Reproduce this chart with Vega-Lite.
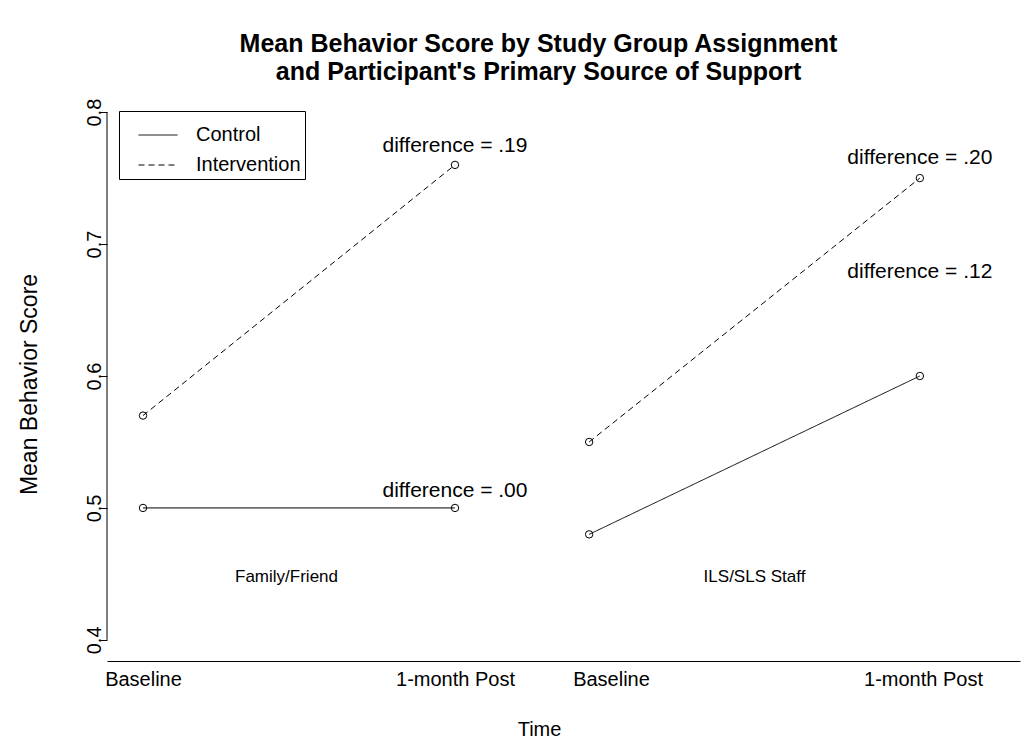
{
  "$schema": "https://vega.github.io/schema/vega-lite/v6.json",
  "width": 913,
  "height": 570,
  "autosize": {"type": "none"},
  "padding": {"left": 107, "top": 91, "right": 5, "bottom": 81},
  "background": "white",
  "config": {
    "view": {"stroke": null},
    "font": "Liberation Sans",
    "axis": {"labelFont": "Liberation Sans", "titleFont": "Liberation Sans", "labelColor": "black", "titleColor": "black", "grid": false},
    "legend": {
      "orient": "none",
      "legendX": 12,
      "legendY": 20,
      "strokeColor": "black",
      "fillColor": "white",
      "padding": 4,
      "labelFont": "Liberation Sans",
      "labelFontSize": 20,
      "labelColor": "black",
      "symbolType": "stroke",
      "symbolSize": 1521,
      "symbolStrokeWidth": 1,
      "symbolStrokeColor": "black",
      "symbolOffset": 15,
      "labelOffset": 18,
      "rowPadding": -8
    }
  },
  "title": {
    "text": ["Mean Behavior Score by Study Group Assignment", "and Participant's Primary Source of Support"],
    "font": "Liberation Sans",
    "fontSize": 25,
    "fontWeight": "bold",
    "color": "black",
    "lineHeight": 28,
    "baseline": "alphabetic",
    "offset": 10,
    "anchor": "middle",
    "dx": -25,
    "dy": 24
  },
  "datasets": {
    "scores": [
      {"support": "Family/Friend", "group": "Control", "series": "FF-Control", "time": "Baseline", "x": 1, "y": 0.50},
      {"support": "Family/Friend", "group": "Control", "series": "FF-Control", "time": "1-month Post", "x": 2, "y": 0.50},
      {"support": "Family/Friend", "group": "Intervention", "series": "FF-Intervention", "time": "Baseline", "x": 1, "y": 0.57},
      {"support": "Family/Friend", "group": "Intervention", "series": "FF-Intervention", "time": "1-month Post", "x": 2, "y": 0.76},
      {"support": "ILS/SLS Staff", "group": "Control", "series": "ILS-Control", "time": "Baseline", "x": 2.43, "y": 0.48},
      {"support": "ILS/SLS Staff", "group": "Control", "series": "ILS-Control", "time": "1-month Post", "x": 3.49, "y": 0.60},
      {"support": "ILS/SLS Staff", "group": "Intervention", "series": "ILS-Intervention", "time": "Baseline", "x": 2.43, "y": 0.55},
      {"support": "ILS/SLS Staff", "group": "Intervention", "series": "ILS-Intervention", "time": "1-month Post", "x": 3.49, "y": 0.75}
    ],
    "diffs": [
      {"label": "difference = .19", "x": 2, "y": 0.774},
      {"label": "difference = .00", "x": 2, "y": 0.513},
      {"label": "difference = .20", "x": 3.49, "y": 0.765},
      {"label": "difference = .12", "x": 3.49, "y": 0.679}
    ],
    "panels": [
      {"label": "Family/Friend", "x": 1.46, "y": 0.448},
      {"label": "ILS/SLS Staff", "x": 2.96, "y": 0.448}
    ],
    "yaxis": [
      {"x": 0.8846, "y": 0.4, "y2": 0.8}
    ]
  },
  "encoding": {
    "x": {
      "field": "x",
      "type": "quantitative",
      "scale": {"domain": [0.8846, 3.811], "nice": false, "zero": false},
      "axis": {
        "values": [1, 2, 2.5, 3.5],
        "labelExpr": "datum.value == 1 || datum.value == 2.5 ? 'Baseline' : '1-month Post'",
        "labelFontSize": 20,
        "labelBaseline": "alphabetic",
        "labelPadding": 24,
        "labelFlush": false,
        "labelOverlap": false,
        "ticks": false,
        "tickSize": 0,
        "domain": true,
        "domainColor": "black",
        "domainWidth": 1,
        "title": "Time",
        "titleFontSize": 20,
        "titleFontWeight": "normal",
        "titleX": 432,
        "titleY": 74,
        "titleBaseline": "alphabetic",
        "titleAlign": "center"
      }
    },
    "y": {
      "field": "y",
      "type": "quantitative",
      "scale": {"domain": [0.384, 0.816], "nice": false, "zero": false},
      "axis": {
        "values": [0.4, 0.5, 0.6, 0.7, 0.8],
        "format": ".1f",
        "labelFontSize": 20,
        "labelAngle": 270,
        "labelAlign": "center",
        "labelBaseline": "alphabetic",
        "labelPadding": 0,
        "tickSize": 7,
        "tickColor": "black",
        "domain": false,
        "title": "Mean Behavior Score",
        "titleFontSize": 23,
        "titleFontWeight": "normal",
        "titleAngle": 270,
        "titleX": -71,
        "titleY": 293,
        "titleAlign": "center",
        "titleBaseline": "alphabetic"
      }
    }
  },
  "layer": [
    {
      "data": {"name": "yaxis"},
      "mark": {"type": "rule", "color": "black", "strokeWidth": 1},
      "encoding": {"y2": {"field": "y2"}}
    },
    {
      "data": {"name": "scores"},
      "mark": {"type": "line", "stroke": "black", "strokeWidth": 1},
      "encoding": {
        "detail": {"field": "series"},
        "strokeDash": {
          "field": "group",
          "type": "nominal",
          "scale": {"domain": ["Control", "Intervention"], "range": [[1, 0], [6, 4]]},
          "legend": {"title": null}
        }
      }
    },
    {
      "data": {"name": "scores"},
      "mark": {"type": "point", "shape": "circle", "filled": false, "size": 55, "stroke": "black", "strokeWidth": 1, "opacity": 1}
    },
    {
      "data": {"name": "diffs"},
      "mark": {"type": "text", "font": "Liberation Sans", "fontSize": 21, "color": "black", "align": "center", "baseline": "middle"},
      "encoding": {"text": {"field": "label"}}
    },
    {
      "data": {"name": "panels"},
      "mark": {"type": "text", "font": "Liberation Sans", "fontSize": 17, "color": "black", "align": "center", "baseline": "middle"},
      "encoding": {"text": {"field": "label"}}
    }
  ]
}
